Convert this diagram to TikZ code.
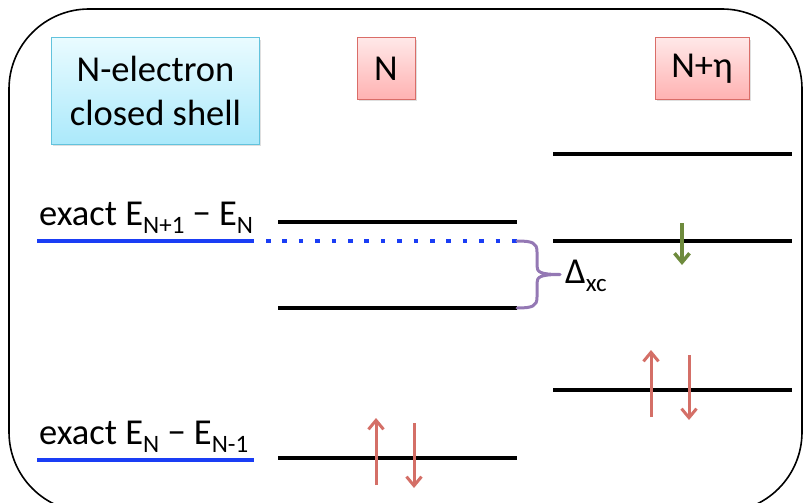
\documentclass[tikz,border=0pt]{standalone}
\usepackage{fontspec}
\setmainfont{Carlito}
\usetikzlibrary{arrows.meta,shadows}
\definecolor{lvlblue}{HTML}{1A3DF5}
\definecolor{arrred}{HTML}{D46F67}
\definecolor{arrgreen}{HTML}{6E8B3D}
\definecolor{bracepurple}{HTML}{9478B4}
\definecolor{cyanborder}{HTML}{62C3DD}
\definecolor{cyantop}{HTML}{E9FBFF}
\definecolor{cyanbot}{HTML}{ABE9FB}
\definecolor{redborder}{HTML}{DA6D68}
\definecolor{redtop}{HTML}{FFE8E8}
\definecolor{redbot}{HTML}{FFB2B2}
\newcommand\lvsub[1]{\raisebox{-8pt}{\fontsize{25}{25}\selectfont #1}}
\begin{document}
\begin{tikzpicture}[x=1pt,y=-1pt,
  font=\fontsize{36.5}{44}\selectfont,
  level/.style={line width=4.5pt, black},
  exactline/.style={line width=4pt, lvlblue},
  spinred/.style={line width=3pt, arrred, -{Straight Barb[length=9pt,width=15pt,line width=3pt]}},
  spingreen/.style={line width=3.5pt, arrgreen, -{Straight Barb[length=9pt,width=15pt,line width=3.5pt]}},
  cyanbox/.style={draw=cyanborder, line width=1pt, top color=cyantop, bottom color=cyanbot,
     drop shadow={shadow xshift=1.5pt, shadow yshift=-2pt, opacity=0.25}, align=center, inner sep=0pt},
  redbox/.style={draw=redborder, line width=1pt, top color=redtop, bottom color=redbot,
     drop shadow={shadow xshift=1.5pt, shadow yshift=-2pt, opacity=0.25}, inner sep=0pt},
  lab/.style={anchor=base west, inner sep=0pt}
]
\useasboundingbox (0,0) rectangle (803,503);
% outer frame
\draw[line width=1.6pt, rounded corners=80pt] (9,9) rectangle (802,512);

% header boxes
\node[cyanbox, minimum width=208pt, minimum height=106pt] (closed) at (155.5,91) {N-electron\\closed shell};
\node[redbox, minimum width=58pt, minimum height=61pt] (nbox) at (386,68.5) {N};
\node[redbox, minimum width=94pt, minimum height=61pt] (netabox) at (702,68.5) {N+η};

% labels
\node[lab] (ea) at (39,225) {exact E\lvsub{N+1} − E\lvsub{N}};
\node[lab] (ip) at (39,444) {exact E\lvsub{N} − E\lvsub{N-1}};
\node[lab] (dxc) at (565,283) {Δ\lvsub{xc}};

% coordinates of levels
\coordinate (eaL) at (37,241);   \coordinate (eaR) at (254,241);
\coordinate (ipL) at (37,460);   \coordinate (ipR) at (254,460);
\coordinate (nuL) at (278,222);  \coordinate (nuR) at (517,222);
\coordinate (nlL) at (278,308);  \coordinate (nlR) at (517,308);
\coordinate (nbL) at (278,458);  \coordinate (nbR) at (517,458);
\coordinate (dotL) at (266,241); \coordinate (dotR) at (517,241);
\coordinate (etL) at (553,154);  \coordinate (etR) at (792,154);
\coordinate (emL) at (553,241);  \coordinate (emR) at (792,241);
\coordinate (ebL) at (553,390);  \coordinate (ebR) at (792,390);

% exact lines
\draw[exactline] (eaL) -- (eaR);
\draw[exactline] (ipL) -- (ipR);
\draw[lvlblue, line width=4.5pt, dash pattern=on 4.5pt off 11.9pt] (dotL) -- (dotR);

% levels
\draw[level] (nuL) -- (nuR);
\draw[level] (nlL) -- (nlR);
\draw[level] (nbL) -- (nbR);
\draw[level] (etL) -- (etR);
\draw[level] (emL) -- (emR);
\draw[level] (ebL) -- (ebR);

% brace
\draw[bracepurple, line width=3pt, line cap=round]
  (dotR) .. controls (533,241) and (537,243) .. (537,252) -- (537,266)
  .. controls (537,272) and (540,274.5) .. (560,274.5)
  (560,274.5) .. controls (540,274.5) and (537,277) .. (537,283) -- (537,297)
  .. controls (537,306) and (533,308) .. (nlR);

% spins
\coordinate (s1a) at (376,485); \coordinate (s1b) at (376,418);
\coordinate (s2a) at (414,423); \coordinate (s2b) at (414,488);
\coordinate (s3a) at (651,417); \coordinate (s3b) at (651,350);
\coordinate (s4a) at (689,355); \coordinate (s4b) at (689,420);
\coordinate (s5a) at (682,223); \coordinate (s5b) at (682,265);
\draw[spinred] (s1a) -- (s1b);
\draw[spinred] (s2a) -- (s2b);
\draw[spinred] (s3a) -- (s3b);
\draw[spinred] (s4a) -- (s4b);
\draw[spingreen] (s5a) -- (s5b);
\end{tikzpicture}
\end{document}
